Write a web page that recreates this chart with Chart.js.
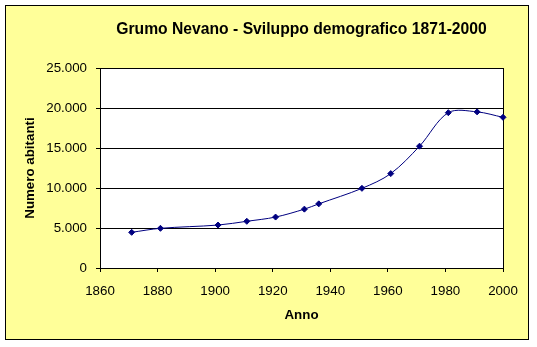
<!DOCTYPE html>
<html>
<head>
<meta charset="utf-8">
<title>Grumo Nevano - Sviluppo demografico 1871-2000</title>
<script src="https://cdn.jsdelivr.net/npm/chart.js@4/dist/chart.umd.min.js"></script>
<style>
  html, body { margin: 0; padding: 0; background: #ffffff; }
  #wrap { width: 537px; height: 347px; }
</style>
</head>
<body>
<div id="wrap"><canvas id="c" width="537" height="347"></canvas></div>
<script>
// Census years and resident population of Grumo Nevano
const years = [1871, 1881, 1901, 1911, 1921, 1931, 1936, 1951, 1961, 1971, 1981, 1991, 2000];
const population = [4460, 4960, 5370, 5840, 6370, 7360, 8020, 9960, 11800, 15230, 19420, 19520, 18840];

// Axis tick values
const xTicks = [1860, 1880, 1900, 1920, 1940, 1960, 1980, 2000];
const yTicks = [0, 5000, 10000, 15000, 20000, 25000];

const chartTitle = 'Grumo Nevano - Sviluppo demografico 1871-2000';
const xTitle = 'Anno';
const yTitle = 'Numero abitanti';

const FONT = '"Liberation Sans", Arial, sans-serif';
const NAVY = '#000080';

function withDots(v) {
  return String(v).replace(/\B(?=(\d{3})+(?!\d))/g, '.');
}

// Yellow chart panel with a black frame, white plot area with a black border
const panelPlugin = {
  id: 'panel',
  beforeDraw(chart) {
    const ctx = chart.ctx;
    const a = chart.chartArea;
    ctx.save();
    ctx.fillStyle = '#ffffff';
    ctx.fillRect(0, 0, chart.width, chart.height);
    ctx.fillStyle = '#ffff99';
    ctx.fillRect(5, 5, 524, 335);
    ctx.strokeStyle = '#000000';
    ctx.lineWidth = 1;
    ctx.strokeRect(5.5, 5.5, 523, 334);
    ctx.fillStyle = '#ffffff';
    ctx.fillRect(a.left, a.top, a.right - a.left, a.bottom - a.top);
    ctx.restore();
  },
  beforeDatasetsDraw(chart) {
    const ctx = chart.ctx;
    const a = chart.chartArea;
    ctx.save();
    ctx.strokeStyle = '#000000';
    ctx.lineWidth = 1;
    ctx.strokeRect(Math.round(a.left) + 0.5, Math.round(a.top) + 0.5,
      Math.round(a.right - a.left), Math.round(a.bottom - a.top));
    ctx.restore();
  }
};

new Chart(document.getElementById('c'), {
  type: 'line',
  data: {
    datasets: [{
      data: years.map((y, i) => ({ x: y, y: population[i] })),
      borderColor: NAVY,
      backgroundColor: NAVY,
      borderWidth: 1,
      tension: 0.33,
      pointStyle: 'rectRot',
      pointRadius: 3,
      pointHoverRadius: 3,
      pointBackgroundColor: NAVY,
      pointBorderColor: NAVY,
      pointBorderWidth: 1,
      clip: false
    }]
  },
  options: {
    responsive: false,
    animation: false,
    devicePixelRatio: 1,
    layout: { padding: { left: 0, top: 0, right: 34, bottom: 0 } },
    plugins: {
      legend: { display: false },
      tooltip: { enabled: false },
      title: {
        display: true,
        text: chartTitle,
        fullSize: false,
        color: '#000000',
        font: { family: FONT, size: 15.7, weight: 'bold', lineHeight: 1.2 },
        padding: { top: 20.6, bottom: 28.6 }
      }
    },
    scales: {
      x: {
        type: 'linear',
        min: 1860,
        max: 2000,
        afterFit(scale) { scale.height = 79; },
        afterBuildTicks(scale) { scale.ticks = xTicks.map(v => ({ value: v })); },
        ticks: {
          color: '#000000',
          font: { family: FONT, size: 13.33, lineHeight: 1.2 },
          padding: 11,
          maxRotation: 0,
          autoSkip: false,
          callback: v => String(v)
        },
        grid: {
          drawOnChartArea: false,
          drawTicks: true,
          tickLength: 4,
          color: '#000000',
          lineWidth: 1
        },
        border: { display: true, color: '#000000', width: 1 },
        title: {
          display: true,
          text: xTitle,
          color: '#000000',
          font: { family: FONT, size: 13.33, weight: 'bold', lineHeight: 1.2 },
          padding: { top: 0, bottom: 24 }
        }
      },
      y: {
        type: 'linear',
        min: 0,
        max: 25000,
        afterFit(scale) { scale.width = 100; },
        afterBuildTicks(scale) { scale.ticks = yTicks.map(v => ({ value: v })); },
        ticks: {
          color: '#000000',
          font: { family: FONT, size: 13.33, lineHeight: 1.2 },
          padding: 9,
          autoSkip: false,
          callback: v => withDots(v)
        },
        grid: {
          drawOnChartArea: true,
          drawTicks: true,
          tickLength: 4,
          color: '#000000',
          lineWidth: 1
        },
        border: { display: true, color: '#000000', width: 1 },
        title: {
          display: true,
          text: yTitle,
          color: '#000000',
          font: { family: FONT, size: 13.33, weight: 'bold', lineHeight: 1.2 },
          padding: { top: 22, bottom: 0 }
        }
      }
    }
  },
  plugins: [panelPlugin]
});
</script>
</body>
</html>
